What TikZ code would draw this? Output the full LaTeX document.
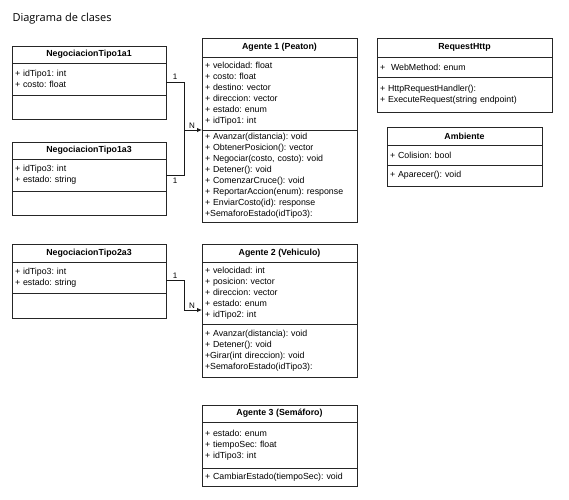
\documentclass[tikz,border=0pt]{standalone}
\usepackage{fontspec}
\setmainfont{Liberation Sans}
\newfontfamily\titlefont{Open Sans}
\usetikzlibrary{arrows.meta, positioning}
\frenchspacing

\begin{document}
\begin{tikzpicture}[
    x=1pt, y=-1pt,
    font=\fontsize{8.8}{11}\selectfont,
    head/.style={draw=black!85, line width=0.9pt, outer sep=0pt, inner sep=0pt,
        anchor=north west, minimum width=#1+6pt, font=\fontsize{8.8}{11}\selectfont\bfseries},
    body/.style={draw=black!85, line width=0.9pt, outer sep=0pt, inner xsep=3pt, inner ysep=2pt,
        text width=#1, align=left},
    mult/.style={font=\fontsize{8}{9}\selectfont, inner sep=1pt},
    assoc/.style={draw=black!90, line width=0.9pt},
    arrow/.style={assoc, -{Latex[length=5pt, width=4.5pt]}}
]
\useasboundingbox (0,0) rectangle (569,499);

\node[anchor=base west, font=\titlefont\fontsize{11}{13}\selectfont] (title) at (9,21) {Diagrama de clases};

% negociaciones
\node[head=148pt, minimum height=17pt] (n1a1) at (12,46) {NegociacionTipo1a1};
\node[body=148pt, minimum height=32pt, below=0pt of n1a1] (n1a1attr) {+ idTipo1: int\\+ costo: float};
\node[body=148pt, minimum height=24pt, below=0pt of n1a1attr] (n1a1meth) {};

\node[head=148pt, minimum height=17pt] (n1a3) at (12,142) {NegociacionTipo1a3};
\node[body=148pt, minimum height=32pt, below=0pt of n1a3] (n1a3attr) {+ idTipo3: int\\+ estado: string};
\node[body=148pt, minimum height=24pt, below=0pt of n1a3attr] (n1a3meth) {};

\node[head=148pt, minimum height=18pt] (n2a3) at (12,244) {NegociacionTipo2a3};
\node[body=148pt, minimum height=31pt, below=0pt of n2a3] (n2a3attr) {+ idTipo3: int\\+ estado: string};
\node[body=148pt, minimum height=25pt, below=0pt of n2a3attr] (n2a3meth) {};

% agentes
\node[head=149pt, minimum height=19pt] (ag1) at (202,38) {Agente 1 (Peaton)};
\node[body=149pt, minimum height=73pt, below=0pt of ag1] (ag1attr) {+ velocidad: float\\+ costo: float\\+ destino: vector\\+ direccion: vector\\+ estado: enum\\+ idTipo1: int};
\node[body=149pt, minimum height=92pt, below=0pt of ag1attr] (ag1meth) {+ Avanzar(distancia): void\\+ ObtenerPosicion(): vector\\+ Negociar(costo, costo): void\\+ Detener(): void\\+ ComenzarCruce(): void\\+ ReportarAccion(enum): response\\+ EnviarCosto(id): response\\+SemaforoEstado(idTipo3):};

\node[head=149pt, minimum height=18pt] (ag2) at (202,244) {Agente 2 (Vehiculo)};
\node[body=149pt, minimum height=62pt, below=0pt of ag2] (ag2attr) {+ velocidad: int\\+ posicion: vector\\+ direccion: vector\\+ estado: enum\\+ idTipo2: int};
\node[body=149pt, minimum height=53pt, below=0pt of ag2attr] (ag2meth) {+ Avanzar(distancia): void\\+ Detener(): void\\+Girar(int direccion): void\\+SemaforoEstado(idTipo3):};

\node[head=149pt, minimum height=17pt] (ag3) at (202,405) {Agente 3 (Semáforo)};
\node[body=149pt, minimum height=46pt, below=0pt of ag3] (ag3attr) {+ estado: enum\\+ tiempoSec: float\\+ idTipo3: int};
\node[body=149pt, minimum height=18pt, below=0pt of ag3attr] (ag3meth) {+ CambiarEstado(tiempoSec): void};

% otras clases
\node[head=169pt, minimum height=19pt] (req) at (377,38) {RequestHttp};
\node[body=169pt, minimum height=20pt, below=0pt of req] (reqattr) {+\ \ WebMethod: enum};
\node[body=169pt, minimum height=35pt, below=0pt of reqattr] (reqmeth) {+ HttpRequestHandler():\\+ ExecuteRequest(string endpoint)\\[6pt]};

\node[head=149pt, minimum height=18pt] (amb) at (387,127) {Ambiente};
\node[body=149pt, minimum height=20pt, below=0pt of amb] (ambattr) {+ Colision: bool};
\node[body=149pt, minimum height=21pt, below=0pt of ambattr] (ambmeth) {+ Aparecer(): void};

% asociaciones
\coordinate (j1) at (184,130);
\coordinate (j2) at (184,310);
\draw[assoc] ([yshift=-3pt]n1a1attr.east) -| (j1) node[mult, pos=0.25, above=1pt] (m1) {1};
\draw[assoc] (n1a3attr.east) -| (j1) node[mult, pos=0.25, below=2pt] (m2) {1};
\draw[arrow] (j1) -- (ag1attr.south west) node[mult, pos=0.5, above, xshift=-1pt] (m3) {N};
\draw[assoc] ([yshift=-3pt]n2a3attr.east) -| (j2) node[mult, pos=0.25, above=1pt] (m4) {1};
\draw[arrow] (j2) -- (j2 -| ag2attr.west) node[mult, pos=0.5, above, xshift=-1pt] (m5) {N};
\end{tikzpicture}
\end{document}
